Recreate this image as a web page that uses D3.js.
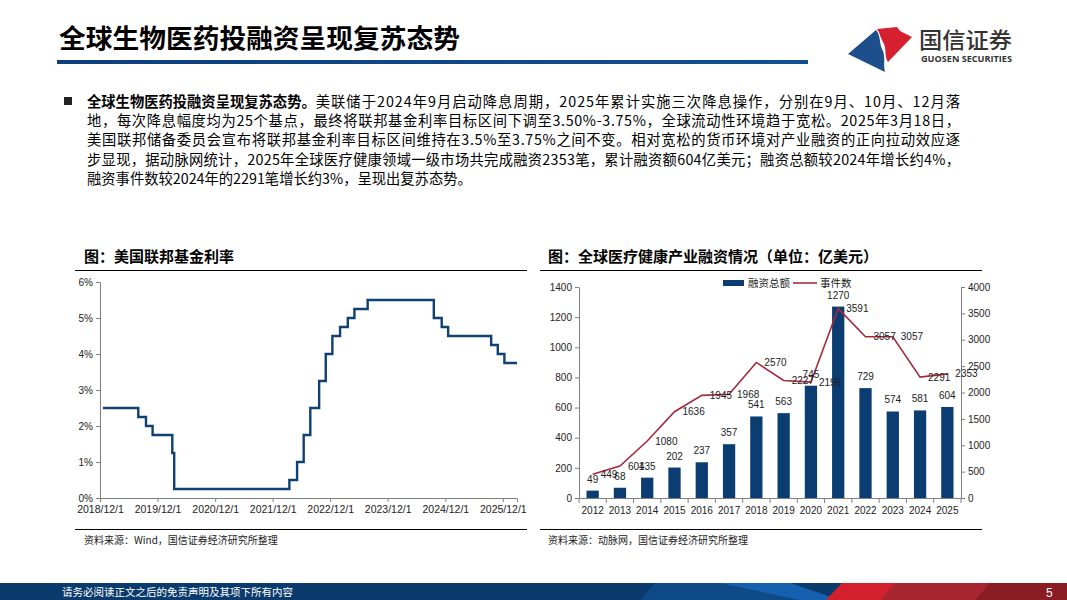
<!DOCTYPE html>
<html>
<head>
<meta charset="utf-8">
<script src="https://cdn.jsdelivr.net/npm/d3@7"></script>
<style>
  body { margin: 0; background: #fff; }
  svg { display: block; }
</style>
</head>
<body>
<div id="page"></div>
<script>
/* ── DATA ── */
// federal funds target (upper bound), change dates
const rateDates  = ['2018-12-20','2019-08-01','2019-09-19','2019-10-31','2020-03-04','2020-03-16',
                    '2022-03-17','2022-05-05','2022-06-16','2022-07-28','2022-09-22','2022-11-03',
                    '2022-12-15','2023-02-02','2023-03-23','2023-05-04','2023-07-27','2024-09-19',
                    '2024-11-08','2024-12-19','2025-09-18','2025-10-30','2025-12-11','2026-03-01'];
const rateValues = [2.5, 2.25, 2.0, 1.75, 1.25, 0.25,
                    0.5, 1.0, 1.75, 2.5, 3.25, 4.0,
                    4.5, 4.75, 5.0, 5.25, 5.5, 5.0,
                    4.75, 4.5, 4.25, 4.0, 3.75, 3.75];
const rateXTicks = ['2018-12-01','2019-12-01','2020-12-01','2021-12-01',
                    '2022-12-01','2023-12-01','2024-12-01','2025-12-01'];
const rateYTicks = [0, 1, 2, 3, 4, 5, 6];

const years       = ['2012','2013','2014','2015','2016','2017','2018','2019','2020','2021','2022','2023','2024','2025'];
const amounts     = [49, 68, 135, 202, 237, 357, 541, 563, 745, 1270, 729, 574, 581, 604];
const eventCounts = [449, 604, 1080, 1636, 1945, 1968, 2570, 2227, 2196, 3591, 3057, 3057, 2291, 2353];
const amountTicks = [0, 200, 400, 600, 800, 1000, 1200, 1400];
const eventTicks  = [0, 500, 1000, 1500, 2000, 2500, 3000, 3500, 4000];

const PAGE_TITLE  = '全球生物医药投融资呈现复苏态势';
const LEAD_BOLD   = '全球生物医药投融资呈现复苏态势。';
const paraLines = [
  '美联储于2024年9月启动降息周期，2025年累计实施三次降息操作，分别在9月、10月、12月落',
  '地，每次降息幅度均为25个基点，最终将联邦基金利率目标区间下调至3.50%-3.75%，全球流动性环境趋于宽松。2025年3月18日，',
  '美国联邦储备委员会宣布将联邦基金利率目标区间维持在3.5%至3.75%之间不变。相对宽松的货币环境对产业融资的正向拉动效应逐',
  '步显现，据动脉网统计，2025年全球医疗健康领域一级市场共完成融资2353笔，累计融资额604亿美元；融资总额较2024年增长约4%，',
  '融资事件数较2024年的2291笔增长约3%，呈现出复苏态势。'
];

/* ── CONSTANTS ── */
const W = 1067, H = 600;
const CJK  = "'Noto Sans CJK SC', 'Noto Sans', sans-serif";
const SANS = "'Liberation Sans', Arial, sans-serif";
const NAVY = '#0c3d72';
const RED  = '#a52a3c';
const AXIS = '#808080';
const INK  = '#222';

const svg = d3.select('#page').append('svg').attr('width', W).attr('height', H);

/* ── HEADER ── */
svg.append('text').attr('x', 59).attr('y', 48)
  .style('font-family', CJK).style('font-size', '26.5px').style('font-weight', 700)
  .attr('fill', '#000').attr('textLength', 401).attr('lengthAdjust', 'spacingAndGlyphs').text(PAGE_TITLE);

const defs = svg.append('defs');
const hg = defs.append('linearGradient').attr('id', 'hbar');
hg.append('stop').attr('offset', '0%').attr('stop-color', '#0d3f7a');
hg.append('stop').attr('offset', '100%').attr('stop-color', '#134f92');
svg.append('rect').attr('x', 57).attr('y', 60).attr('width', 751).attr('height', 4).attr('fill', 'url(#hbar)');

/* logo */
const logo = svg.append('g');
logo.append('path').attr('fill', '#1c4f8c')
  .attr('d', 'M848,54 L876,30 C881,36 879,43 882,49 C886,56 883,64 885,72 Z');
logo.append('path').attr('fill', '#d7202f')
  .attr('d', 'M877,29 L897,27 L900,31 L912,37 L888,62 C884,56 887,48 883,42 C880,37 880,33 877,29 Z');
logo.append('text').attr('x', 919).attr('y', 48)
  .style('font-family', CJK).style('font-size', '22px').style('font-weight', 500)
  .attr('fill', '#333').attr('textLength', 93).attr('lengthAdjust', 'spacingAndGlyphs').text('国信证券');
logo.append('text').attr('x', 921).attr('y', 62)
  .style('font-family', "'Open Sans', sans-serif").style('font-size', '8px').style('font-weight', 700)
  .attr('fill', '#333').attr('textLength', 91).attr('lengthAdjust', 'spacingAndGlyphs').text('GUOSEN SECURITIES');

/* ── PARAGRAPH ── */
svg.append('rect').attr('x', 64).attr('y', 97).attr('width', 8).attr('height', 8).attr('fill', '#222');
const PX = 87, PR = 960, LH = 19.4, PY0 = 106.5, PFS = '14.3px';
const lead = svg.append('text').attr('x', PX).attr('y', PY0)
  .style('font-family', CJK).style('font-size', PFS).style('font-weight', 700).attr('fill', '#000')
  .text(LEAD_BOLD);
const leadEnd = PX + lead.node().getComputedTextLength();
paraLines.forEach((line, i) => {
  const x0 = i === 0 ? leadEnd : PX;
  const t = svg.append('text').attr('x', x0).attr('y', PY0 + i * LH)
    .style('font-family', CJK).style('font-size', PFS).attr('fill', '#000').text(line);
  if (i < paraLines.length - 1) t.attr('textLength', PR - x0).attr('lengthAdjust', 'spacing');
});

/* ── PANEL FRAME helper ── */
function panelFrame(x1, x2, title, titleX, source) {
  svg.append('text').attr('x', titleX).attr('y', 262)
    .style('font-family', CJK).style('font-size', '15px').style('font-weight', 700)
    .attr('fill', '#000').text(title);
  svg.append('line').attr('x1', x1).attr('x2', x2).attr('y1', 270.5).attr('y2', 270.5)
    .attr('stroke', '#000').attr('stroke-width', 1.2);
  svg.append('line').attr('x1', x1).attr('x2', x2).attr('y1', 529.5).attr('y2', 529.5)
    .attr('stroke', '#000').attr('stroke-width', 1);
  svg.append('text').attr('x', titleX).attr('y', 544)
    .style('font-family', CJK).style('font-size', '10px').attr('fill', INK).text(source);
}

function styleAxis(ax) {
  ax.select('.domain').attr('stroke', AXIS);
  ax.selectAll('line').attr('stroke', AXIS);
  ax.selectAll('text').style('font-family', SANS).style('font-size', '10px').attr('fill', INK);
}

/* ── LEFT: FED FUNDS RATE ── */
panelFrame(75, 527, '图：美国联邦基金利率', 84, '资料来源：Wind，国信证券经济研究所整理');

const parse = d3.timeParse('%Y-%m-%d');
const xR = d3.scaleTime().domain([parse('2018-12-01'), parse('2026-03-01')]).range([100, 517]);
const yR = d3.scaleLinear().domain([0, 6]).range([498, 282]);

svg.append('g').attr('transform', 'translate(0,498)')
  .call(d3.axisBottom(xR).tickValues(rateXTicks.map(parse)).tickFormat(d3.timeFormat('%Y/%-m/%-d'))
    .tickSizeOuter(0).tickSize(4).tickPadding(4))
  .call(styleAxis)
  .call(ax => ax.selectAll('text').style('font-size', '10.5px'));

svg.append('g').attr('transform', 'translate(100,0)')
  .call(d3.axisLeft(yR).tickValues(rateYTicks).tickFormat(d => d + '%').tickSizeOuter(0).tickSize(4).tickPadding(3))
  .call(styleAxis);

const rateLine = d3.line().x(d => xR(d.date)).y(d => yR(d.v)).curve(d3.curveStepAfter);
svg.append('path')
  .datum(rateDates.map((d, i) => ({ date: parse(d), v: rateValues[i] })))
  .attr('fill', 'none').attr('stroke', '#0f4174').attr('stroke-width', 2.4).attr('d', rateLine);

/* ── RIGHT: HEALTHCARE FINANCING ── */
panelFrame(540, 982, '图：全球医疗健康产业融资情况（单位：亿美元）', 548, '资料来源：动脉网，国信证券经济研究所整理');

const xB = d3.scaleBand().domain(years).range([579, 961]);
const yA = d3.scaleLinear().domain([0, 1400]).range([498, 287]);
const yE = d3.scaleLinear().domain([0, 4000]).range([498, 287]);
const step = xB.bandwidth();
const barW = step * 0.45;

svg.append('g').attr('transform', 'translate(0,498)')
  .call(d3.axisBottom(xB).tickSize(0).tickPadding(9).tickSizeOuter(0))
  .call(styleAxis);
// category boundary ticks
svg.append('g').selectAll('line').data(years.concat(['end'])).join('line')
  .attr('x1', (d, i) => 579 + i * step).attr('x2', (d, i) => 579 + i * step)
  .attr('y1', 498).attr('y2', 503).attr('stroke', AXIS);

svg.append('g').attr('transform', 'translate(579,0)')
  .call(d3.axisLeft(yA).tickValues(amountTicks).tickFormat(d => String(d))
    .tickSize(4).tickPadding(3).tickSizeOuter(0))
  .call(styleAxis);
svg.append('g').attr('transform', 'translate(961,0)')
  .call(d3.axisRight(yE).tickValues(eventTicks).tickFormat(d => String(d))
    .tickSize(4).tickPadding(3).tickSizeOuter(0))
  .call(styleAxis);

svg.append('g').selectAll('rect').data(years).join('rect')
  .attr('x', d => xB(d) + (step - barW) / 2).attr('width', barW)
  .attr('y', (d, i) => yA(amounts[i])).attr('height', (d, i) => 498 - yA(amounts[i]))
  .attr('fill', NAVY);

const evLine = d3.line().x((d, i) => xB(years[i]) + step / 2).y(d => yE(d));
svg.append('path').datum(eventCounts)
  .attr('fill', 'none').attr('stroke', RED).attr('stroke-width', 1.6).attr('d', evLine);

// bar value labels (above bars) and event labels (right of points) — overlaps as in source
svg.append('g').selectAll('text').data(years).join('text')
  .attr('x', d => xB(d) + step / 2).attr('y', (d, i) => yA(amounts[i]) - 8)
  .attr('text-anchor', 'middle')
  .style('font-family', SANS).style('font-size', '10px').attr('fill', INK)
  .text((d, i) => amounts[i]);

svg.append('g').selectAll('text').data(years).join('text')
  .attr('x', d => xB(d) + step / 2 + 8).attr('y', (d, i) => yE(eventCounts[i]) + 3.5)
  .style('font-family', SANS).style('font-size', '10px').attr('fill', INK)
  .text((d, i) => eventCounts[i]);

/* legend */
const lg = svg.append('g');
lg.append('rect').attr('x', 723).attr('y', 280).attr('width', 21).attr('height', 6).attr('fill', NAVY);
lg.append('text').attr('x', 748).attr('y', 287)
  .style('font-family', CJK).style('font-size', '10.5px').attr('fill', INK).text('融资总额');
lg.append('line').attr('x1', 793).attr('x2', 817).attr('y1', 283).attr('y2', 283)
  .attr('stroke', RED).attr('stroke-width', 1.6);
lg.append('text').attr('x', 820).attr('y', 287)
  .style('font-family', CJK).style('font-size', '10.5px').attr('fill', INK).text('事件数');

/* ── FOOTER ── */
const foot = svg.append('g');
foot.append('rect').attr('x', 0).attr('y', 583).attr('width', W).attr('height', 17).attr('fill', '#0b3b6c');
foot.append('polygon').attr('points', '640,600 655,583 740,583 800,600').attr('fill', '#0f4a88');
foot.append('polygon').attr('points', '720,583 790,583 840,600 800,600').attr('fill', '#1660b0');
foot.append('polygon').attr('points', '826,600 842,583 1067,583 1067,600').attr('fill', '#a8262f');
foot.append('polygon').attr('points', '826,600 842,583 895,583 880,600').attr('fill', '#d4202d');
foot.append('polygon').attr('points', '975,600 990,583 1067,583 1067,600').attr('fill', '#8c1c23');
foot.append('text').attr('x', 62).attr('y', 595.5)
  .style('font-family', CJK).style('font-size', '10.5px').attr('fill', '#fff')
  .text('请务必阅读正文之后的免责声明及其项下所有内容');
foot.append('text').attr('x', 1046).attr('y', 597)
  .style('font-family', SANS).style('font-size', '12px').attr('fill', '#fff').text('5');
</script>
</body>
</html>
